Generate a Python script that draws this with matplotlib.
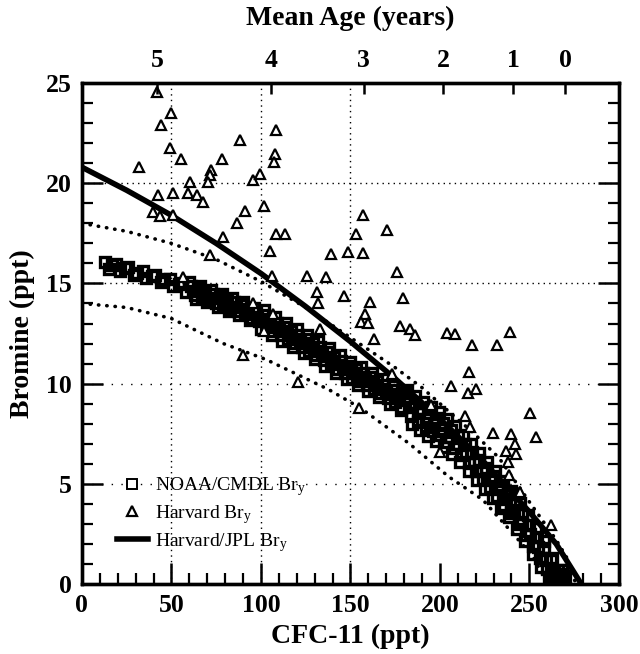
import matplotlib
matplotlib.use("Agg")
import matplotlib.pyplot as plt
from matplotlib.lines import Line2D

plt.rcParams['font.family'] = ['Liberation Serif', 'DejaVu Serif']
plt.rcParams['mathtext.fontset'] = 'custom'
plt.rcParams['mathtext.rm'] = 'Liberation Serif'
plt.rcParams['mathtext.it'] = 'Liberation Serif:italic'

# ---------------- data ----------------
# NOAA/CMDL Bry (dense band of open squares)
noaa_cfc = [13, 15, 17, 19, 21, 24, 26, 29, 31, 34, 36, 39, 41, 44, 46, 49, 51, 54, 56, 58,
            60, 62, 64, 66, 68, 70, 72, 74, 76, 78, 80, 82, 84, 86, 88, 90, 92, 94, 96, 98,
            100, 102, 104, 106, 108, 110, 112, 114, 116, 118, 120, 122, 124, 126, 128, 130,
            132, 134, 136, 138, 140, 142, 144, 146, 148, 150, 152, 154, 156, 158, 160, 162,
            164, 166, 168, 170, 172, 174, 176, 178, 180,
            181.5, 183, 184.5, 186, 187.5, 189, 190.5, 192, 193.5, 195, 196.5, 198, 199.5,
            201, 202.5, 204, 205.5, 207, 208.5, 210, 211.5, 213, 214.5, 216, 217.5, 219,
            220.5, 222, 223.5, 225, 226.5, 228, 229.5, 231, 232.5, 234, 235.5, 237, 238.5,
            240, 241.5, 243, 244.5, 246, 247.5, 249, 250.5, 252, 253.5, 255, 256.5, 258,
            259.5, 261, 262.5, 264, 265.5, 267, 268,
            61, 63, 65, 67, 69, 71, 73, 75, 77, 79, 81, 83, 85, 87, 89, 91, 93, 95, 97, 99,
            101, 103, 105, 107, 109, 111, 113, 115, 117, 119, 121, 123, 125, 127, 129, 131,
            133, 135, 137, 139, 141, 143, 145, 147, 149, 151, 153, 155, 157, 159, 161, 163,
            165, 167, 169, 171, 173, 175, 177, 179,
            182, 184, 186, 188, 190, 192, 194, 196, 198, 200, 202, 204, 206, 208, 210, 212,
            214, 216, 218, 220, 222, 224, 226, 228, 230, 232, 234, 236, 238, 240, 242, 244,
            246, 248, 250, 252, 254, 256, 258, 260, 262, 264, 266, 269, 270, 268.5]
noaa_bry = [16.05, 15.7, 15.9, 15.95, 15.6, 15.75, 15.8, 15.4, 15.5, 15.6, 15.25, 15.35, 15.4,
            15.05, 15.2, 15.2, 14.85, 14.95, 15.0, 14.55,
            15.05, 14.64, 14.23, 14.87, 14.46, 14.05, 14.68, 14.26, 13.84, 14.47, 14.05, 13.63,
            14.26, 13.84, 13.42, 14.05, 13.61, 13.17, 13.78, 13.34,
            12.75, 13.65, 13.05, 12.45, 13.35, 12.75, 12.15, 13.05, 12.45, 11.85, 12.75, 12.15,
            11.55, 12.45, 11.85, 11.25, 12.13, 11.51, 10.89, 11.77, 11.15, 10.54, 11.43, 10.82,
            10.21, 11.1, 10.51, 9.92, 10.83, 10.24, 9.65, 10.54, 9.93, 9.32, 10.21, 9.6, 8.99,
            9.88, 9.27, 8.66, 9.55,
            9.7, 8.84, 7.99, 9.38, 8.53, 7.67, 9.07, 8.24, 7.41, 8.82, 7.99, 7.16, 8.58,
            7.72, 6.85, 8.23, 7.36, 6.49, 7.87, 7.0, 6.1, 7.45, 6.55, 5.65, 7.0, 6.1,
            5.2, 6.55, 5.65, 4.75, 6.1, 5.2, 4.3, 5.64, 4.72, 3.81, 5.15, 4.23, 3.32,
            4.65, 3.7, 2.75, 4.04, 3.09, 2.14, 3.44, 2.48, 1.51, 2.8, 1.83, 0.87, 2.15,
            1.19, 0.35, 1.3, 0.55, 0.1, 0.5, 0.05,
            14.85, 14.43, 14.73, 14.31, 14.61, 14.19, 14.48, 14.04, 14.33, 13.9, 14.18, 13.77,
            14.06, 13.62, 13.91, 13.47, 13.74, 13.29, 13.56, 13.12,
            13.45, 12.85, 13.25, 12.65, 13.05, 12.45, 12.85, 12.25, 12.65, 12.05, 12.45, 11.85,
            12.25, 11.65, 12.05, 11.44, 11.82, 11.2, 11.58, 10.96, 11.35, 10.73, 11.12, 10.51,
            10.9, 10.3, 10.71, 10.12, 10.53, 9.95, 10.35, 9.73, 10.13, 9.52, 9.91, 9.3, 9.69,
            9.07, 9.46, 8.85,
            9.29, 8.39, 9.01, 8.11, 8.73, 7.86, 8.51, 7.64, 8.29, 7.42, 8.02, 7.1, 7.7, 6.78,
            7.38, 6.42, 6.98, 6.02, 6.58, 5.62, 6.18, 5.22, 5.78, 4.82, 5.38, 4.4, 4.94, 3.96,
            4.5, 3.52, 4.01, 2.98, 3.47, 2.44, 2.93, 1.88, 2.36, 1.31, 1.78, 0.74, 1.22, 0.17,
            0.68, 0.15, 0.4, 0.7]

# Harvard Bry (open triangles)
harv_cfc = [41.7, 49.7, 44.1, 49.2, 55.3, 32.0, 88.3, 108.6, 107.8, 107.2, 78.4, 72.1, 71.5,
            70.6, 60.6, 59.2, 64.3, 67.6, 51.0, 42.6, 39.8, 43.9, 51.0, 95.7, 99.4, 102.0,
            91.2, 86.7, 78.8, 108.6, 113.7, 105.0, 71.3, 106.3, 126.0, 136.3, 139.2, 148.5,
            156.8, 153.0, 157.2, 170.2, 175.8, 131.1, 131.7, 146.5, 160.7, 158.4, 155.7,
            159.7, 163.1, 179.5, 177.7, 183.2, 186.2, 133.0, 203.7, 208.4, 217.7, 232.0,
            239.1, 216.0, 206.0, 215.5, 220.3, 173.0, 250.5, 194.9, 214.3, 216.8, 229.8,
            239.7, 241.9, 253.6, 236.9, 242.8, 200.0, 238.2, 238.7, 244.7, 262.0, 90.1,
            120.9, 155.0, 106.9, 101.9, 95.7, 56.6]
harv_bry = [24.57, 23.5, 22.9, 21.75, 21.2, 20.8, 22.16, 22.64, 21.45, 21.08, 21.2, 20.66, 20.4,
            20.08, 20.07, 19.52, 19.41, 19.06, 19.5, 19.39, 18.56, 18.35, 18.42, 20.16, 20.48,
            18.84, 18.61, 18.0, 17.33, 17.48, 17.49, 16.64, 16.42, 15.39, 15.38, 15.34, 16.47,
            16.56, 16.52, 17.47, 18.4, 17.69, 15.58, 14.55, 14.0, 14.38, 14.05, 13.5, 13.1,
            13.05, 12.22, 14.28, 12.9, 12.75, 12.42, 12.75, 12.52, 12.47, 11.92, 11.95, 12.58,
            10.57, 9.88, 9.51, 9.74, 10.47, 8.53, 8.95, 8.36, 7.85, 7.55, 7.48, 6.98, 7.36,
            6.62, 6.48, 6.6, 6.1, 5.44, 4.6, 2.97, 11.45, 10.09, 8.8, 13.5, 12.62, 14.0, 15.3]

# Harvard/JPL Bry (solid curve)
jpl_cfc = [0, 25, 50, 75, 100, 125, 150, 175, 200, 225, 250, 265, 279]
jpl_bry = [20.8, 19.65, 18.4, 17.0, 15.5, 13.85, 12.1, 10.25, 8.25, 6.05, 3.6, 2.0, 0.0]

# dotted envelope curves
upper_cfc = [0, 25, 50, 75, 100, 125, 150, 175, 190, 207, 218, 233, 250, 265, 271, 276]
upper_bry = [18.0, 17.6, 17.0, 16.2, 15.1, 13.8, 12.3, 10.8, 9.8, 8.45, 7.6, 6.3, 4.1, 2.2, 1.3, 0.0]
lower_cfc = [0, 25, 50, 79, 103, 138, 156, 183, 205, 224, 241, 252, 258, 260]
lower_bry = [14.0, 13.8, 13.25, 12.0, 11.2, 9.7, 8.76, 7.0, 5.35, 4.2, 2.5, 1.36, 0.4, 0.0]

# top axis (mean age)
age_tick_cfc = [41.9, 105.4, 157.5, 201.8, 241.0, 270.0]
age_labels = ['5', '4', '3', '2', '1', '0']

grid_x = [50, 100, 150]
grid_y = [5, 10, 15, 20]

# ---------------- figure ----------------
fig = plt.figure(figsize=(6.4, 6.54), dpi=100)
ax = fig.add_axes([0.128, 0.107, 0.839, 0.766])
ax.set_xlim(0, 300)
ax.set_ylim(0, 25)

for gx in grid_x:
    ax.axvline(gx, color='black', lw=1.0, ls=(0, (1, 3)), zorder=1)
for gy in grid_y:
    style = (0, (1, 3)) if gy >= 15 else (0, (1, 6))
    ax.axhline(gy, color='black', lw=1.0, ls=style, zorder=1)

dot_style = (0, (0.1, 2.2))
ax.plot(upper_cfc, upper_bry, color='black', lw=2.6, ls=dot_style,
        dash_capstyle='round', zorder=2)
ax.plot(lower_cfc, lower_bry, color='black', lw=2.6, ls=dot_style,
        dash_capstyle='round', zorder=2)

ax.plot(noaa_cfc, noaa_bry, ls='none', marker='s', ms=6.5, mfc='none', mec='black',
        mew=2.4, zorder=3)
ax.plot(jpl_cfc, jpl_bry, color='black', lw=4.0, solid_capstyle='butt', zorder=4)
ax.plot(harv_cfc, harv_bry, ls='none', marker='^', ms=7.5, mfc='white', mec='black',
        mew=1.6, zorder=5)

ax.set_xticks(range(0, 301, 50))
ax.set_xticks(range(0, 301, 10), minor=True)
ax.set_yticks(range(0, 26, 5))
ax.set_yticks(range(0, 26, 1), minor=True)
ax.tick_params(which='major', direction='in', length=15, width=1.8,
               labelsize=18.5, left=True, right=True, bottom=True, top=False, pad=7)
ax.tick_params(which='minor', direction='in', length=8, width=1.6,
               left=True, right=True, bottom=True, top=False)
for lab in ax.get_xticklabels() + ax.get_yticklabels():
    lab.set_fontweight('bold')
for sp in ax.spines.values():
    sp.set_linewidth(2.4)

ax.set_xlabel('CFC-11 (ppt)', fontsize=20, fontweight='bold', labelpad=5)
ax.set_ylabel('Bromine (ppt)', fontsize=20, fontweight='bold', labelpad=8)

ax2 = ax.twiny()
ax2.set_xlim(ax.get_xlim())
ax2.set_xticks(age_tick_cfc)
ax2.set_xticklabels(age_labels, fontsize=18.5, fontweight='bold')
ax2.tick_params(direction='in', length=8, width=1.8, pad=8)
ax2.set_xlabel('Mean Age (years)', fontsize=20, fontweight='bold', labelpad=17)
for sp in ax2.spines.values():
    sp.set_linewidth(2.4)

handles = [
    Line2D([], [], ls='none', marker='s', ms=6.5, mfc='white', mec='black', mew=1.4),
    Line2D([], [], ls='none', marker='^', ms=7.5, mfc='white', mec='black', mew=1.6),
    Line2D([], [], color='black', lw=4.0),
]
labels = ['NOAA/CMDL Br$_\\mathregular{y}$', 'Harvard Br$_\\mathregular{y}$',
          'Harvard/JPL Br$_\\mathregular{y}$']
ax.legend(handles, labels, loc='lower left', bbox_to_anchor=(0.05, 0.045), frameon=False,
          fontsize=14, handlelength=1.6, handletextpad=0.4, labelspacing=0.25,
          borderaxespad=0)

fig.savefig('out.png', dpi=100)
